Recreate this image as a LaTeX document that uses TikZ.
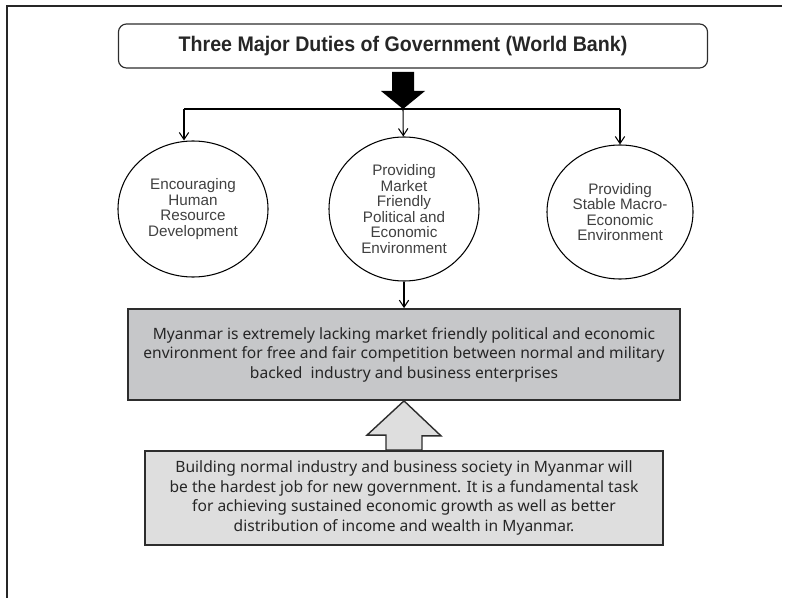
\documentclass[tikz,border=0pt]{standalone}
\usepackage{fontspec}
\setmainfont{Liberation Sans}
\newfontfamily\headfont[FakeStretch=0.93]{Liberation Sans}
\newfontfamily\factfont{Noto Sans}
\usetikzlibrary{arrows.meta}
\usetikzlibrary{calc}
\usetikzlibrary{shapes.geometric}

\definecolor{lackgrey}{RGB}{198,199,201}
\definecolor{buildgrey}{RGB}{222,222,222}
\definecolor{edgegrey}{RGB}{45,45,45}

\tikzset{
  headbox/.style={minimum width=17.67cm, minimum height=1.32cm, draw=edgegrey, line width=1pt, rounded corners=0.24cm, text=black!85, font=\headfont\bfseries\fontsize{18}{20}\selectfont, shape=rectangle},
  duty/.style={draw=black, line width=0.9pt, text=black!75, font=\fontsize{13}{13.3}\selectfont, shape=ellipse, inner sep=0pt},
  factbox/.style={draw=edgegrey, line width=1.5pt, text=black!85, font=\factfont\fontsize{13.3}{16.6}\selectfont, shape=rectangle, inner sep=0pt},
  branch/.style={line width=0.9pt, -{Straight Barb[length=6pt, width=8pt]}}
}

\begin{document}
\begin{tikzpicture}[x=0.03cm, y=-0.03cm]

\useasboundingbox (0, 0) rectangle (790, 598);
\draw[line width=1.5pt, black!85] (7, 598) -- (7, 6) -- (782, 6);

\node[align=center] (duties) [style=headbox] at (413, 46) {\hspace*{-0.6cm}Three Major Duties of Government (World Bank)};

\node[align=center] (human) [style={duty, minimum width=4.5cm, minimum height=4.08cm}] at (193, 209) {Encouraging\\Human\\Resource\\Development};
\node[align=center] (market) [style={duty, minimum width=4.5cm, minimum height=4.32cm}] at (404, 209) {Providing\\Market\\Friendly\\Political and\\Economic\\Environment};
\node[align=center] (macro) [style={duty, minimum width=4.38cm, minimum height=4.02cm}] at (620, 212) {Providing\\Stable Macro-\\Economic\\Environment};

\node[align=center] (lacking) [style={factbox, fill=lackgrey, minimum width=16.56cm, minimum height=2.73cm}] at (404, 354.5) {Myanmar is extremely lacking market friendly political and economic\\environment for free and fair competition between normal and military\\backed~ industry and business enterprises};
\node[align=center] (building) [style={factbox, fill=buildgrey, minimum width=15.54cm, minimum height=2.82cm}] at (404, 498) {Building normal industry and business society in Myanmar will\\be the hardest job for new government. It is a fundamental task\\for achieving sustained economic growth as well as better\\distribution of income and wealth in Myanmar.};

\coordinate (split) at (403, 109);
\coordinate (toleft) at (184, 109);
\coordinate (toright) at (620, 109);

\fill[black] (split) -- ++(-22, -18) -- ++(11, 0) -- ++(0, -19) -- ++(22, 0) -- ++(0, 19) -- ++(11, 0) -- cycle;
\draw[line width=2.4pt] (toleft) -- (toright);

\draw[branch] (toleft) -- (toleft |- human.north);
\draw[branch] (split) -- (market);
\draw[branch] (toright) -- (macro);
\draw[branch] (market) -- (lacking);

\draw[draw=edgegrey, fill=buildgrey, line width=1.2pt] (lacking.south) -- ++(37, 35) -- ++(-19, 0) -- ($(building.north)+(18, 0)$) -- ($(building.north)+(-18, 0)$) -- ++(0, -15) -- ++(-19, 0) -- cycle;

\end{tikzpicture}
\end{document}
